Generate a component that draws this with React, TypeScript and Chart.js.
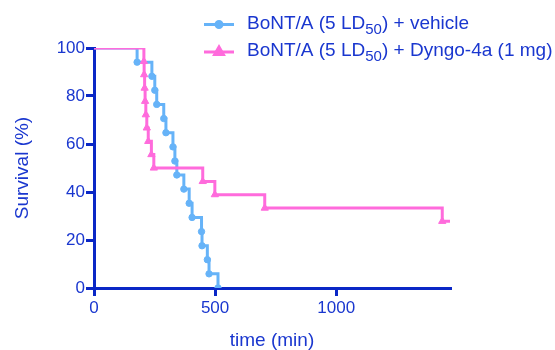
import React, { useEffect, useRef } from "react";
import { Chart, registerables } from "chart.js";
import { drawPoint } from "chart.js/helpers";

Chart.register(...registerables);

// Kaplan-Meier data
const vehicleTimes = [0, 178, 239, 251, 259, 288, 297, 326, 334, 342, 371, 393, 405, 444, 446, 468, 475, 512];
const vehicleSurvival = [100, 94.1, 88.2, 82.4, 76.5, 70.6, 64.7, 58.8, 52.9, 47.1, 41.2, 35.3, 29.4, 23.5, 17.6, 11.8, 5.9, 0];

const dyngoTimes = [0, 206, 207, 209, 211, 214, 218, 224, 237, 247, 449, 499, 705, 1438, 1470];
const dyngoSurvival = [100, 94.4, 88.9, 83.3, 77.8, 72.2, 66.7, 61.1, 55.6, 50, 44.4, 38.9, 33.3, 27.8, 27.8];

const seriesLabels = ["BoNT/A (5 LD₅₀) + vehicle", "BoNT/A (5 LD₅₀) + Dyngo-4a (1 mg)"];
const legendParts = [
  ["BoNT/A (5 LD", "50", ") + vehicle"],
  ["BoNT/A (5 LD", "50", ") + Dyngo-4a (1 mg)"],
];

const xTickValues = [0, 500, 1000];
const yTickValues = [0, 20, 40, 60, 80, 100];

const AXIS = "#0a27c6";
const TEXT = "#1a37cf";
const BLUE = "#66b3f8";
const PINK = "#ff6bdc";
const FONT = '"Liberation Sans", Arial, sans-serif';

const legendPlugin = {
  id: "subLegend",
  afterDatasetsDraw(chart: any, _args: any, opts: any) {
    const ctx = chart.ctx as CanvasRenderingContext2D;
    const items = opts.parts as string[][];
    items.forEach((parts, i) => {
      const ds = chart.data.datasets[i];
      const ly = opts.lineY + i * opts.rowGap;
      const by = opts.baseY + i * opts.rowGap;
      ctx.save();
      ctx.strokeStyle = ds.borderColor;
      ctx.fillStyle = ds.backgroundColor;
      ctx.lineWidth = 3;
      ctx.beginPath();
      ctx.moveTo(opts.lineX0, ly);
      ctx.lineTo(opts.lineX1, ly);
      ctx.stroke();
      drawPoint(
        ctx,
        { pointStyle: ds.pointStyle, radius: opts.markerRadius[i], borderWidth: 1, rotation: 0 } as any,
        (opts.lineX0 + opts.lineX1) / 2,
        ly
      );
      ctx.fillStyle = TEXT;
      ctx.textBaseline = "alphabetic";
      ctx.textAlign = "left";
      let x = opts.textX;
      parts.forEach((p, k) => {
        const isSub = k % 2 === 1;
        ctx.font = `${isSub ? opts.subSize : opts.mainSize}px ${FONT}`;
        ctx.fillText(p, x, isSub ? by + opts.subDrop : by);
        x += ctx.measureText(p).width;
      });
      ctx.restore();
    });
  },
};

export default function App() {
  const ref = useRef<HTMLCanvasElement | null>(null);

  useEffect(() => {
    if (!ref.current) return;
    const vehicleData = vehicleTimes.map((t, i) => ({ x: t, y: vehicleSurvival[i] }));
    const dyngoData = dyngoTimes.map((t, i) => ({ x: t, y: dyngoSurvival[i] }));
    const chart = new Chart(ref.current, {
      type: "line",
      data: {
        datasets: [
          {
            label: seriesLabels[0],
            data: vehicleData,
            borderColor: BLUE,
            backgroundColor: BLUE,
            borderWidth: 3,
            stepped: true,
            pointStyle: "circle",
            pointRadius: vehicleData.map((_, i) => (i === 0 ? 0 : 3.2)),
            pointBorderWidth: 1,
            order: 1,
          },
          {
            label: seriesLabels[1],
            data: dyngoData,
            borderColor: PINK,
            backgroundColor: PINK,
            borderWidth: 3,
            stepped: true,
            pointStyle: "triangle",
            pointRadius: dyngoData.map((_, i) => (i === 0 || i === dyngoData.length - 1 ? 0 : 4.2)),
            pointBorderWidth: 1,
            order: 0,
          },
        ],
      },
      options: {
        animation: false,
        responsive: false,
        devicePixelRatio: 1,
        layout: { padding: { left: 0, right: 105, top: 48, bottom: 0 } },
        plugins: {
          legend: { display: false },
          tooltip: { enabled: false },
          subLegend: {
            parts: legendParts,
            lineX0: 204,
            lineX1: 234,
            lineY: 24.5,
            baseY: 28.5,
            rowGap: 27.5,
            textX: 247,
            mainSize: 19,
            subSize: 15,
            subDrop: 5,
            markerRadius: [3, 5],
          },
        } as any,
        scales: {
          x: {
            type: "linear",
            min: 0,
            max: 1470,
            afterFit: (s: any) => {
              s.height = 62;
            },
            afterBuildTicks: (s: any) => {
              s.ticks = xTickValues.map((v) => ({ value: v }));
            },
            border: { display: true, color: AXIS, width: 3 },
            grid: { display: true, drawOnChartArea: false, drawTicks: true, tickLength: 8, color: AXIS, lineWidth: 3 },
            ticks: {
              color: TEXT,
              font: { family: FONT, size: 17 },
              padding: 2,
              maxRotation: 0,
              autoSkip: false,
              callback: (v: any) => String(v),
            },
            title: {
              display: true,
              text: "time (min)",
              color: TEXT,
              font: { family: FONT, size: 19, lineHeight: 1 },
              padding: { top: 0, bottom: 0 },
            },
          },
          y: {
            type: "linear",
            min: 0,
            max: 100,
            afterFit: (s: any) => {
              s.width = 94;
            },
            afterBuildTicks: (s: any) => {
              s.ticks = yTickValues.map((v) => ({ value: v }));
            },
            border: { display: true, color: AXIS, width: 3 },
            grid: { display: true, drawOnChartArea: false, drawTicks: true, tickLength: 8, color: AXIS, lineWidth: 3 },
            ticks: {
              color: TEXT,
              font: { family: FONT, size: 17 },
              padding: 1,
              autoSkip: false,
              callback: (v: any) => String(v),
            },
            title: {
              display: true,
              text: "Survival (%)",
              color: TEXT,
              font: { family: FONT, size: 19, lineHeight: 1 },
              padding: { top: 13, bottom: 0 },
            },
          },
        },
      },
      plugins: [legendPlugin],
    });
    return () => chart.destroy();
  }, []);

  return (
    <div style={{ position: "absolute", left: 0, top: 0, width: 555, height: 350, background: "#fff" }}>
      <canvas ref={ref} width={555} height={350} style={{ display: "block", width: 555, height: 350 }} />
    </div>
  );
}
